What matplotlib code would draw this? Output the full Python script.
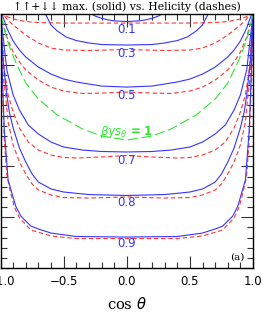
import numpy as np
import matplotlib
matplotlib.use("Agg")
import matplotlib.pyplot as plt
from matplotlib.ticker import MultipleLocator

# curve values (right half, curves are symmetric in cos theta)
beta_labels = ["0.1", "0.3", "0.5", "0.7", "0.8", "0.9"]

c_01s = [0, 0.1, 0.15, 0.2, 0.25, 0.3, 0.35]
y_01s = [2.426, 2.433, 2.443, 2.458, 2.480, 2.515, 2.559]
c_01d = [0, 0.5, 0.7, 0.8, 0.9, 0.95, 1.0]
y_01d = [2.411, 2.411, 2.416, 2.426, 2.451, 2.475, 2.520]

c_03s = [0, 0.2, 0.3, 0.4, 0.48, 0.55, 0.6, 0.64, 0.68]
y_03s = [2.195, 2.200, 2.215, 2.239, 2.274, 2.333, 2.392, 2.490, 2.589]
c_03d = [0, 0.3, 0.5, 0.6, 0.7, 0.8, 0.9, 0.95, 1.0]
y_03d = [2.151, 2.141, 2.146, 2.165, 2.215, 2.293, 2.392, 2.451, 2.539]

c_05s = [0, 0.2, 0.4, 0.5, 0.6, 0.7, 0.8, 0.85, 0.9, 0.95, 1.0]
y_05s = [1.781, 1.791, 1.831, 1.860, 1.909, 1.978, 2.077, 2.146, 2.234, 2.362, 2.539]
c_05d = [0, 0.2, 0.35, 0.5, 0.6, 0.7, 0.8, 0.85, 0.9, 0.95, 1.0]
y_05d = [1.732, 1.722, 1.718, 1.742, 1.781, 1.850, 1.949, 2.028, 2.126, 2.274, 2.5]

c_green = [0, 0.2, 0.35, 0.55, 0.7, 0.8, 0.87, 0.92, 0.96, 1.0]
y_green = [1.260, 1.299, 1.368, 1.506, 1.663, 1.821, 1.998, 2.146, 2.293, 2.5]

c_07s = [0, 0.2, 0.35, 0.5, 0.6, 0.7, 0.78, 0.85, 0.9, 0.95, 1.0]
y_07s = [1.142, 1.147, 1.161, 1.191, 1.240, 1.319, 1.407, 1.555, 1.703, 1.949, 2.5]
c_07d = [0, 0.2, 0.4, 0.5, 0.6, 0.7, 0.78, 0.85, 0.9, 0.94, 0.97, 1.0]
y_07d = [1.107, 1.093, 1.083, 1.088, 1.112, 1.161, 1.240, 1.378, 1.535, 1.703, 1.949, 2.5]

c_08s = [0, 0.3, 0.5, 0.6, 0.7, 0.75, 0.8, 0.85, 0.9, 0.93, 0.95, 0.98, 1.0]
y_08s = [0.714, 0.723, 0.748, 0.778, 0.846, 0.925, 1.043, 1.181, 1.378, 1.535, 1.703, 2.047, 2.5]
c_08d = [0, 0.3, 0.5, 0.6, 0.7, 0.75, 0.8, 0.85, 0.9, 0.94, 0.96, 0.98, 1.0]
y_08d = [0.699, 0.689, 0.694, 0.719, 0.768, 0.827, 0.925, 1.043, 1.211, 1.437, 1.703, 1.900, 2.5]

c_09s = [0, 0.4, 0.6, 0.7, 0.76, 0.84, 0.88, 0.91, 0.94, 0.97, 0.99, 1.0]
y_09s = [0.305, 0.310, 0.344, 0.384, 0.413, 0.512, 0.610, 0.738, 0.866, 1.358, 2.047, 2.5]
c_09d = [0, 0.4, 0.6, 0.76, 0.85, 0.89, 0.92, 0.95, 0.97, 0.99, 1.0]
y_09d = [0.290, 0.290, 0.315, 0.374, 0.492, 0.600, 0.738, 0.915, 1.260, 1.949, 2.5]

label_y = [2.343, 2.116, 1.703, 1.063, 0.640, 0.246]

solid = [(c_01s, y_01s), (c_03s, y_03s), (c_05s, y_05s),
         (c_07s, y_07s), (c_08s, y_08s), (c_09s, y_09s)]
dashed = [(c_01d, y_01d), (c_03d, y_03d), (c_05d, y_05d),
          (c_07d, y_07d), (c_08d, y_08d), (c_09d, y_09d)]

BLUE = "#3535ff"
RED = "#ff3535"
GREEN = "#2ee82e"


def mirror(c, y):
    c = np.asarray(c, float)
    y = np.asarray(y, float)
    return np.concatenate([-c[::-1], c[1:]]), np.concatenate([y[::-1], y[1:]])


fig = plt.figure(figsize=(2.63, 3.12), dpi=100)
ax = fig.add_axes([0.002, 0.141, 0.960, 0.814])

for c, y in dashed:
    xx, yy = mirror(c, y)
    ln, = ax.plot(xx, yy, color=RED, lw=0.8)
    ln.set_dashes([4, 2.5])
for c, y in solid:
    xx, yy = mirror(c, y)
    ax.plot(xx, yy, color=BLUE, lw=0.8)
xx, yy = mirror(c_green, y_green)
ln, = ax.plot(xx, yy, color=GREEN, lw=0.8)
ln.set_dashes([9, 3.5])

for lab, ly in zip(beta_labels, label_y):
    ax.text(0.0, ly, lab, color=BLUE, fontsize=8.5, ha="center", va="center")
ax.text(0.0, 1.342, r"$\beta\gamma s_\theta$ = 1", color=GREEN, fontsize=8.5,
        ha="center", va="center", fontweight="bold")
ax.text(0.875, 0.108, "(a)", fontsize=7.5, family="DejaVu Serif", ha="center", va="center")

ax.set_xlim(-1, 1)
ax.set_ylim(0, 2.5)
ax.xaxis.set_major_locator(MultipleLocator(0.5))
ax.xaxis.set_minor_locator(MultipleLocator(0.1))
ax.yaxis.set_major_locator(MultipleLocator(0.5))
ax.yaxis.set_minor_locator(MultipleLocator(0.1))
ax.tick_params(which="both", direction="in", top=True, right=True, width=0.8, color="#333333")
ax.tick_params(which="major", length=9)
ax.tick_params(which="minor", length=4)
ax.tick_params(axis="x", labelsize=8.5, pad=5)
ax.set_yticklabels([])
ax.set_xticks([-1, -0.5, 0, 0.5, 1])
ax.set_xticklabels(["\u22121.0", "\u22120.5", "0.0", "0.5", "1.0"])
for s in ax.spines.values():
    s.set_linewidth(1.0)

ax.set_xlabel(r"cos $\theta$", fontsize=10.5, family="DejaVu Serif", labelpad=6)
ax.set_title("\u2191\u2191+\u2193\u2193 max. (solid) vs. Helicity (dashes)",
             fontsize=7.8, family=["DejaVu Serif", "DejaVu Sans"], pad=3)

fig.savefig("out.png", dpi=100)
